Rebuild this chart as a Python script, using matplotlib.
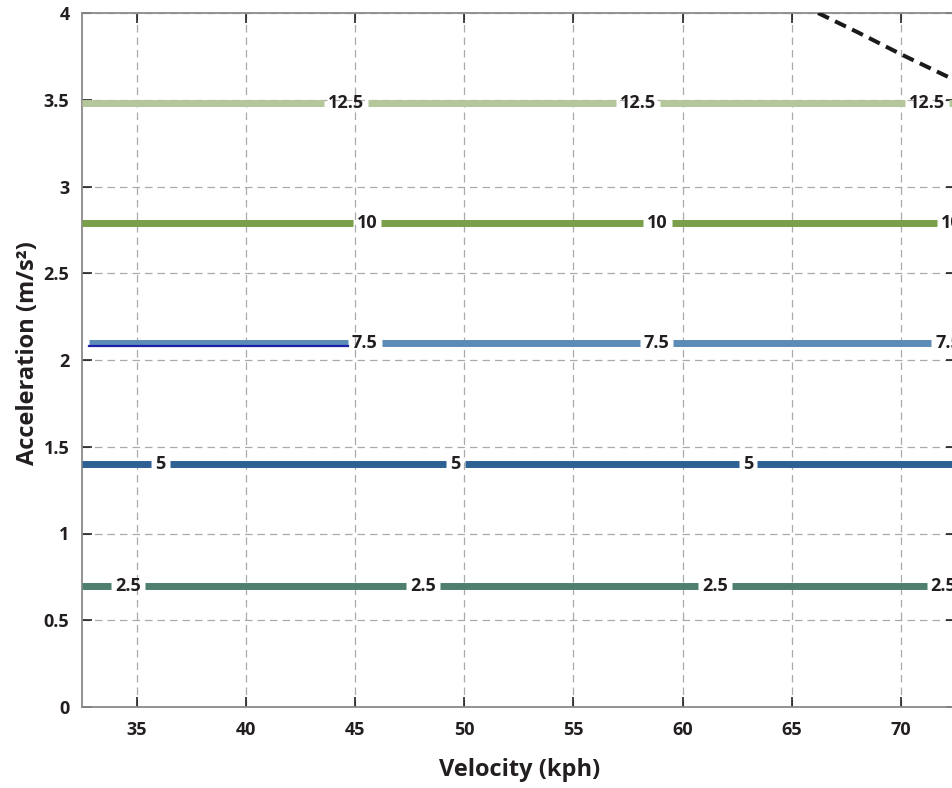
import matplotlib
matplotlib.use('Agg')
import matplotlib.pyplot as plt

plt.rcParams['font.family'] = ['Open Sans', 'DejaVu Sans']

# ---- data ----
level_labels = ['2.5', '5', '7.5', '10', '12.5']
level_accel = [0.70, 1.40, 2.10, 2.79, 3.48]
level_x_start = [32.5, 32.5, 32.8, 32.5, 32.5]
level_x_end = 72.6
label_x = [
    [34.6, 48.1, 61.5, 71.95],
    [36.1, 49.6, 63.0],
    [45.45, 58.8, 72.15],
    [45.55, 58.85, 72.3],
    [44.6, 57.95, 71.2],
]
level_colors = ['#4e7f6e', '#2d6193', '#5b8cb8', '#7b9e4b', '#b4c69a']

thin_x = [32.8, 44.7]
thin_y = [2.083, 2.083]

curve_x = [66.2, 68.0, 70.1, 72.6]
curve_y = [4.0, 3.89, 3.756, 3.605]

x_ticks = [35, 40, 45, 50, 55, 60, 65, 70]
y_ticks = [0, 0.5, 1, 1.5, 2, 2.5, 3, 3.5, 4]
y_ticklabels = ['0', '0.5', '1', '1.5', '2', '2.5', '3', '3.5', '4']

# ---- figure ----
W, H = 952, 788
AX_L, AX_R, AX_T, AX_B = 82, 955.6, 13, 707
fig = plt.figure(figsize=(W / 100, H / 100), dpi=100)
ax = fig.add_axes([AX_L / W, (H - AX_B) / H, (AX_R - AX_L) / W, (AX_B - AX_T) / H])
ax.set_xlim(32.5, 72.5)
ax.set_ylim(0, 4)

ax.grid(True, color='#aaaaaa', linestyle=(0, (6, 4)), linewidth=0.9, zorder=0)
ax.set_axisbelow(True)

for s in ax.spines.values():
    s.set_color('#8a8a8a')
    s.set_linewidth(1.3)

ax.set_xticks(x_ticks)
ax.set_yticks(y_ticks)
ax.set_yticklabels(y_ticklabels)
ax.tick_params(direction='in', length=7, width=1.1, color='#111111',
               top=True, right=True, labelsize=13, labelcolor='#231f20')
ax.tick_params(axis='y', pad=9)
ax.tick_params(axis='x', pad=10)
for lab in ax.get_xticklabels() + ax.get_yticklabels():
    lab.set_fontweight('bold')

ax.set_xlabel('Velocity (kph)', fontsize=17, fontweight='bold', color='#231f20')
ax.set_ylabel('Acceleration (m/s²)', fontsize=17, fontweight='bold', color='#231f20')
ax.yaxis.set_label_coords((40 - AX_L) / (AX_R - AX_L), 0.51)
ax.xaxis.set_label_coords((520 - AX_L) / (AX_R - AX_L), -(758 - AX_B) / (AX_B - AX_T))

# labels first, to measure gaps
texts = []
for i, xs in enumerate(label_x):
    row = []
    for x in xs:
        t = ax.text(x, level_accel[i], level_labels[i], ha='center', va='center',
                    fontsize=13, fontweight='bold', color='#231f20', zorder=5)
        row.append(t)
    texts.append(row)

fig.canvas.draw()
r = fig.canvas.get_renderer()
inv = ax.transData.inverted()
pad_px = 4
for i, row in enumerate(texts):
    bounds = []
    for t in row:
        bb = t.get_window_extent(renderer=r)
        x0 = inv.transform((bb.x0 - pad_px, 0))[0]
        x1 = inv.transform((bb.x1 + pad_px, 0))[0]
        bounds.append((x0, x1))
    start = level_x_start[i]
    for (g0, g1) in bounds:
        if g0 > start:
            ax.plot([start, g0], [level_accel[i]] * 2, color=level_colors[i],
                    linewidth=5, solid_capstyle='butt', zorder=3)
        start = g1
    if start < level_x_end:
        ax.plot([start, level_x_end], [level_accel[i]] * 2, color=level_colors[i],
                linewidth=5, solid_capstyle='butt', zorder=3, clip_on=False)

ax.plot(thin_x, thin_y, color='#1f22a8', linewidth=1.6, zorder=4)
ax.plot(curve_x, curve_y, color='#1a1a1a', linewidth=2.9, dashes=(3.0, 1.7), zorder=4)

fig.savefig('out.png', dpi=100)
